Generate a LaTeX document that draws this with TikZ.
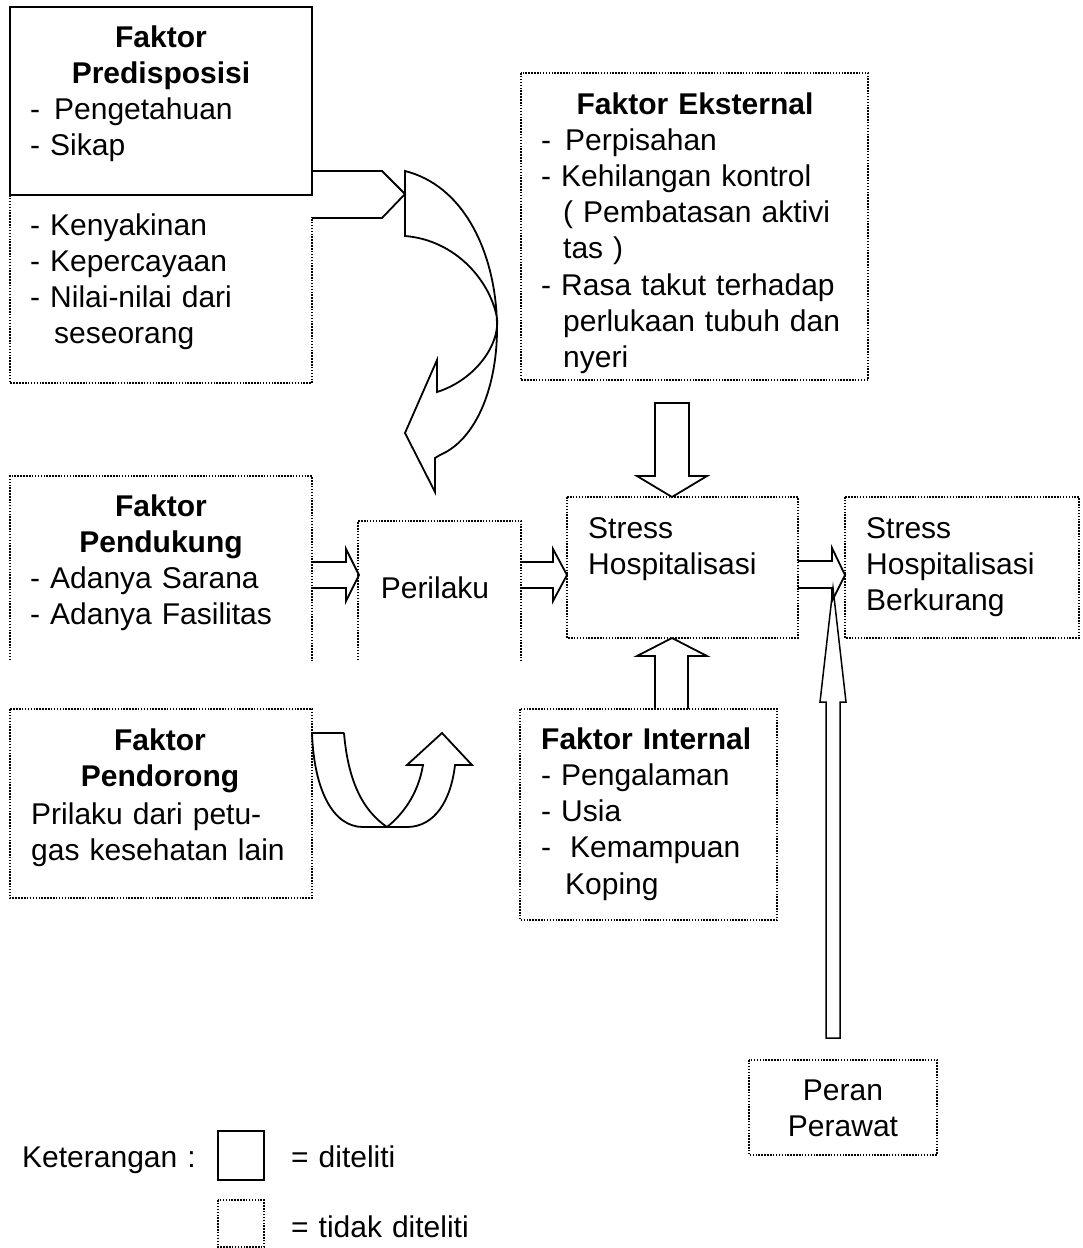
\documentclass[tikz,border=0pt]{standalone}
\usepackage{fontspec}
\setmainfont{Liberation Sans}
\begin{document}
\begin{tikzpicture}[x=1pt,y=-1pt,
  solidline/.style={line width=1.9pt, line join=miter},
  dotline/.style={line width=1.5pt, dash pattern=on 1.5pt off 1.4pt},
  boxnode/.style={rectangle, inner sep=0pt, outer sep=0pt, anchor=north west},
  blk/.style={line width=1.8pt, line join=miter},
  txt/.style={inner sep=0pt, anchor=base west, align=left, text width=330pt,
              font=\fontsize{30}{36.3}\selectfont},
  ttl/.style={inner sep=0pt, anchor=base, align=center, text width=300pt,
              font=\fontsize{30}{36.3}\selectfont\bfseries},
  ctxt/.style={inner sep=0pt, anchor=base, align=center, text width=200pt,
              font=\fontsize{30}{36.3}\selectfont}
]
\useasboundingbox (0,0) rectangle (1082,1248);

% ---------- boxes ----------
\node[boxnode, minimum width=302pt, minimum height=188pt] (pred) at (10,7) {};
\node[boxnode, minimum width=302pt, minimum height=188pt] (predlow) at (10,195) {};
\node[boxnode, minimum width=347pt, minimum height=307pt] (eks) at (521,73) {};
\node[boxnode, minimum width=302pt, minimum height=184pt] (pend) at (10,476) {};
\node[boxnode, minimum width=163pt, minimum height=139pt] (peri) at (358,521) {};
\node[boxnode, minimum width=231pt, minimum height=141pt] (stress) at (567,497) {};
\node[boxnode, minimum width=234pt, minimum height=141pt] (berk) at (845,497) {};
\node[boxnode, minimum width=302pt, minimum height=189pt] (pendr) at (10,709) {};
\node[boxnode, minimum width=257pt, minimum height=211pt] (intl) at (520,709) {};
\node[boxnode, minimum width=188pt, minimum height=95pt] (peran) at (749,1060) {};
\node[boxnode, minimum width=46pt, minimum height=49pt] (legs) at (218,1131) {};
\node[boxnode, minimum width=46pt, minimum height=47pt] (legd) at (218,1200) {};

\draw[solidline] (pred.north west) rectangle (pred.south east);
\draw[dotline] (predlow.north west) -- (predlow.south west) -- (predlow.south east) -- (312,217);
\draw[dotline] (eks.north west) rectangle (eks.south east);
\draw[dotline] (pend.south west) -- (pend.north west) -- (pend.north east) -- (pend.south east);
\draw[dotline] (peri.south west) -- (peri.north west) -- (peri.north east) -- (peri.south east);
\draw[dotline] (stress.north west) rectangle (stress.south east);
\draw[dotline] (berk.north west) rectangle (berk.south east);
\draw[dotline] (pendr.north west) rectangle (pendr.south east);
\draw[dotline] (intl.north west) rectangle (intl.south east);
\draw[dotline] (peran.north west) rectangle (peran.south east);
\draw[solidline] (legs.north west) rectangle (legs.south east);
\draw[dotline] (legd.north west) rectangle (legd.south east);

% ---------- texts ----------
\node[ttl] (predT) at (161,47) {Faktor\\Predisposisi};
\node[txt] (predL) at (30,119) {-\hspace{4pt} Pengetahuan\\- Sikap};
\node[txt] (predM) at (30,235) {- Kenyakinan\\- Kepercayaan\\- Nilai-nilai dari\\\hspace*{24pt}seseorang};

\node[ttl] (eksT) at (695,114) {Faktor Eksternal};
\node[txt] (eksL) at (541,150) {-\hspace{4pt} Perpisahan\\- Kehilangan kontrol\\\hspace*{22pt}( Pembatasan aktivi\\\hspace*{22pt}tas )\\- Rasa takut terhadap\\\hspace*{22pt}perlukaan tubuh dan\\\hspace*{22pt}nyeri};

\node[ttl] (pendT) at (161,516) {Faktor\\Pendukung};
\node[txt] (pendL) at (30,588) {- Adanya Sarana\\- Adanya Fasilitas};

\node[ctxt] (periT) at (435,598) {Perilaku};
\node[txt] (stressT) at (588,538) {Stress\\Hospitalisasi};
\node[txt] (berkT) at (866,538) {Stress\\Hospitalisasi\\Berkurang};

\node[ttl] (pendrT) at (160,750) {Faktor\\Pendorong};
\node[txt] (pendrL) at (31,824) {Prilaku dari petu-\\gas kesehatan lain};

\node[txt] (intlT) at (541,749) {\textbf{Faktor Internal}\\- Pengalaman\\- Usia\\-\hspace{9pt} Kemampuan\\\hspace*{24pt}Koping};

\node[ctxt] (peranT) at (843,1100) {Peran\\Perawat};

\node[txt] (ket) at (22,1167) {Keterangan :};
\node[txt] (ket1) at (291,1167) {= diteliti};
\node[txt] (ket2) at (291,1237) {= tidak diteliti};

% ---------- block arrows ----------
% Predisposisi -> curved arrow
\draw[blk] (pred.east |- 0,171) -- (382,171) -- (405,194) -- (382,218) -- (pred.east |- 0,218);
% curved arrow down to Perilaku
\draw[blk] (405,171) .. controls (520,200) and (522,420) .. (440,455)
  -- (435,458) -- (435,492) -- (405,433) -- (437,360) -- (437,392)
  .. controls (475,380) and (500,345) .. (497,318)
  .. controls (490,280) and (455,240) .. (405,236) -- cycle;
% U-turn arrow from Pendorong
\draw[blk] (344,733) -- (312,733) .. controls (314,790) and (333,827) .. (363,827)
  -- (407,827) .. controls (435,827) and (451,800) .. (455,765)
  -- (472,765) -- (442,733) -- (407,765) -- (423,765)
  .. controls (418,795) and (402,815) .. (387,827)
  .. controls (362,810) and (348,780) .. (344,733);
% Pendukung -> Perilaku
\draw[blk] (pend.east |- 0,562) -- (346,562) -- (346,549) -- (359,575) -- (346,601) -- (346,588) -- (pend.east |- 0,588);
% Perilaku -> Stress
\draw[blk] (peri.east |- 0,562) -- (553,562) -- (553,549) -- (567,575) -- (553,601) -- (553,588) -- (peri.east |- 0,588);
% Stress -> Berkurang
\draw[blk] (stress.east |- 0,561) -- (832,561) -- (832,548) -- (845,575) -- (832,601) -- (832,588) -- (stress.east |- 0,588);
% Eksternal -> Stress (down)
\draw[blk] (655,403) -- (689,403) -- (689,476) -- (707,476) -- (672,497) -- (637,476) -- (655,476) -- cycle;
% Internal -> Stress (up)
\draw[blk] (655,709) -- (655,656) -- (637,656) -- (672,638) -- (707,656) -- (688,656) -- (688,709);
% Peran Perawat -> arrow
\draw[line width=1.5pt, line join=miter] (826,1038) -- (826,702) -- (820,702) -- (833,588) -- (846,702) -- (840,702) -- (840,1038) -- cycle;
\end{tikzpicture}
\end{document}
